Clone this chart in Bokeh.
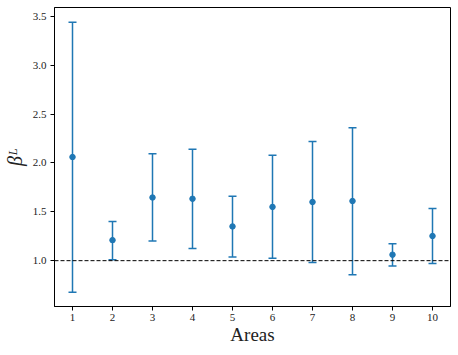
from bokeh.plotting import figure
from bokeh.models import ColumnDataSource, Whisker, TeeHead, Span, FixedTicker, Range1d, PrintfTickFormatter
from bokeh.embed import file_html
from bokeh.resources import INLINE

areas = [1, 2, 3, 4, 5, 6, 7, 8, 9, 10]
beta_mean = [2.06, 1.21, 1.646, 1.633, 1.35, 1.55, 1.60, 1.61, 1.061, 1.252]
beta_upper = [3.44, 1.40, 2.095, 2.14, 1.66, 2.078, 2.22, 2.36, 1.173, 1.534]
beta_lower = [0.677, 1.01, 1.20, 1.125, 1.038, 1.024, 0.98, 0.857, 0.946, 0.97]
y_ticks = [1.0, 1.5, 2.0, 2.5, 3.0, 3.5]

color = "#1f77b4"
font = "Liberation Serif"

src = ColumnDataSource(dict(x=areas, y=beta_mean, up=beta_upper, lo=beta_lower))

p = figure(width=454, height=347, output_backend="svg", toolbar_location=None,
           x_range=Range1d(0.55, 10.45), y_range=Range1d(0.531, 3.59),
           min_border_left=54, min_border_right=4, min_border_top=7, min_border_bottom=40)

p.add_layout(Whisker(source=src, base="x", upper="up", lower="lo",
                     line_color=color, line_width=1.5,
                     upper_head=TeeHead(size=8, line_color=color, line_width=1.5),
                     lower_head=TeeHead(size=8, line_color=color, line_width=1.5)))
p.scatter("x", "y", source=src, size=5.5, color=color)
p.add_layout(Span(location=1.0, dimension="width", line_color="black",
                  line_dash="4 2", line_width=1))

p.xgrid.visible = False
p.ygrid.visible = False
p.outline_line_color = "black"
p.outline_line_width = 1
p.outline_line_alpha = 1

p.xaxis.ticker = FixedTicker(ticks=areas)
p.yaxis.ticker = FixedTicker(ticks=y_ticks)
p.yaxis.formatter = PrintfTickFormatter(format="%.1f")
for ax in (p.xaxis, p.yaxis):
    ax.minor_tick_line_color = None
    ax.major_tick_in = 0
    ax.major_tick_out = 4
    ax.major_tick_line_color = "black"
    ax.axis_line_color = "black"
    ax.major_label_text_font = font
    ax.major_label_text_font_size = "11px"
    ax.major_label_text_color = "#222222"
    ax.axis_label_text_font = font
    ax.axis_label_text_font_style = "normal"
    ax.axis_label_text_color = "#222222"
p.xaxis.major_label_standoff = 3
p.yaxis.major_label_standoff = 4
p.xaxis.axis_label = "Areas"
p.xaxis.axis_label_text_font_size = "19px"
p.xaxis.axis_label_standoff = 0
p.yaxis.axis_label = "βᴸ"
p.yaxis.axis_label_text_font_style = "italic"
p.yaxis.axis_label_text_font_size = "20px"
p.yaxis.axis_label_standoff = 4

open("out.html", "w").write(file_html(p, INLINE))
